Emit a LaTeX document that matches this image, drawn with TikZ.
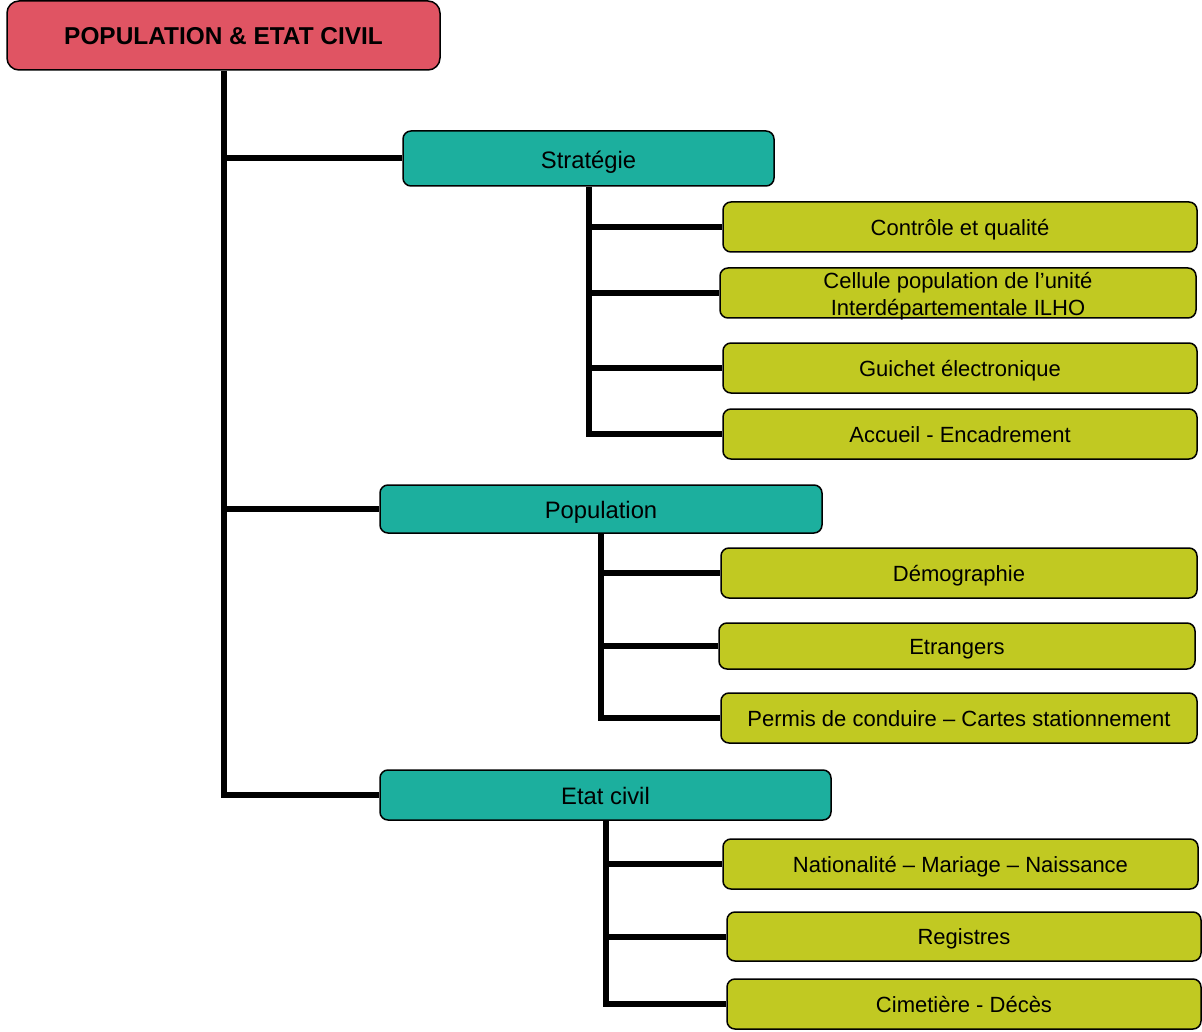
\documentclass[tikz,border=0pt]{standalone}
\usepackage{fontspec}
\setmainfont{Liberation Sans}
\usetikzlibrary{calc}
\definecolor{rootred}{HTML}{E05463}
\definecolor{boxteal}{HTML}{1CAF9E}
\definecolor{boxlime}{HTML}{C1C922}
\tikzset{
  rootbox/.style={draw, line width=1.5pt, fill=rootred, rounded corners=12pt, inner sep=0pt,
    minimum width=433pt, minimum height=69pt, text height=17.6pt, text depth=0pt,
    font=\bfseries\fontsize{24.4}{28}\selectfont},
  headbox/.style={draw, line width=1.5pt, fill=boxteal, rounded corners=8pt, inner sep=0pt,
    minimum height=50pt, text height=19.6pt, text depth=0pt, font=\fontsize{23.8}{28}\selectfont},
  leafbox/.style={draw, line width=1.5pt, fill=boxlime, rounded corners=8pt, inner sep=0pt,
    minimum width=474pt, minimum height=50pt, align=center, text height=16.6pt, text depth=0pt,
    font=\fontsize{22}{27}\selectfont},
  branch/.style={line width=6pt}
}

\begin{document}
\begin{tikzpicture}[x=1pt, y=-1pt]
			%%%%% START %%%%%
			\useasboundingbox (0, 0) rectangle (1202, 1032);
			
			\node[rootbox] (root) at (223.5, 35.5) {POPULATION \& ETAT CIVIL};
			
			\node[headbox, minimum width=371pt, minimum height=55pt] (strat) at (588.5, 158.5) {Stratégie};
			\node[headbox, minimum width=442pt, minimum height=48pt] (pop) at (601, 509) {Population};
			\node[headbox, minimum width=451pt] (etat) at (605.5, 795) {Etat civil};
			
			\node[leafbox] (ctrl) at (960, 227) {Contrôle et qualité};
			\node[leafbox, minimum width=476pt, text height=46pt] (cell) at (958, 293) {Cellule population de l’unité\\Interdépartementale ILHO};
			\node[leafbox] (guich) at (960, 368) {Guichet électronique};
			\node[leafbox] (accu) at (960, 434) {Accueil - Encadrement};
			
			\node[leafbox, minimum width=476pt] (demo) at (959, 573) {Démographie};
			\node[leafbox, minimum width=476pt, minimum height=46pt] (etr) at (957, 646) {Etrangers};
			\node[leafbox, minimum width=476pt] (perm) at (959, 718) {Permis de conduire – Cartes stationnement};
			
			\node[leafbox, minimum width=475pt] (nat) at (960.5, 864) {Nationalité – Mariage – Naissance};
			\node[leafbox, minimum height=49pt] (reg) at (964, 936.5) {Registres};
			\node[leafbox] (cim) at (964, 1004) {Cimetière - Décès};
			
			\draw[branch] (root.south) |- (etat.west);
			\draw[branch] (root.south |- strat.west) -- (strat.west);
			\draw[branch] (root.south |- pop.west) -- (pop.west);
			
			\draw[branch] (strat.south) |- (accu.west);
			\draw[branch] (strat.south |- ctrl.west) -- (ctrl.west);
			\draw[branch] (strat.south |- cell.west) -- (cell.west);
			\draw[branch] (strat.south |- guich.west) -- (guich.west);
			
			\draw[branch] (pop.south) |- (perm.west);
			\draw[branch] (pop.south |- demo.west) -- (demo.west);
			\draw[branch] (pop.south |- etr.west) -- (etr.west);
			
			\draw[branch] (etat.south) |- (cim.west);
			\draw[branch] (etat.south |- nat.west) -- (nat.west);
			\draw[branch] (etat.south |- reg.west) -- (reg.west);
			
			%%%%% END %%%%%
\end{tikzpicture}
\end{document}
